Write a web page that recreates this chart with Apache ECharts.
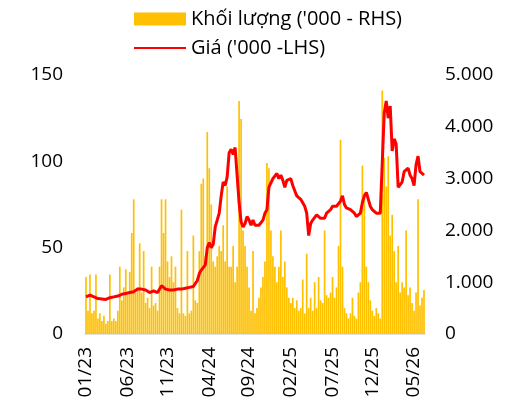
<!DOCTYPE html>
<html>
<head>
<meta charset="utf-8">
<script src="https://cdn.jsdelivr.net/npm/echarts@6/dist/echarts.min.js"></script>
<style>html,body{margin:0;padding:0;background:#fff}#c{width:509px;height:404px}</style>
</head>
<body>
<div id="c"></div>
<script>
// Weekly points, Jan 2023 – mid 2026
var xTickLabels = ['01/23','06/23','11/23','04/24','09/24','02/25','07/25','12/25','05/26'];
var xTickIdx = [0, 21, 41, 62, 82, 103, 124, 144, 165];

// Giá ('000, LHS)
var price = [
21.5,22,22.5,22.5,21.5,20.5,20.5,20.5,20.3,20,
20,20.5,21,21.7,21.5,21.7,22,22.5,23,23,
23.5,23.5,24,24,24.5,25.5,26,26.5,26,26,
25.5,24.5,24,24.5,25,24.5,24,25,28,28,
26,25.5,25.5,26,25.5,26,26,25.5,26,26,
26.5,27,27,27.5,27.5,28.5,31,35,37,38,
40,50,53,50,52,62,66,70,80,88,
86,91,105,107,104,108,92,76,65,62,
64,68,66,63,66,63,62,63,64,66,
70,72,85,84,90,91,93,90,92,89,
85,89,88,90,86,83,80,79,78,76,
74,70,57,64,66,67,69,70,67,68,
67,70,71,72,74,73,74,75,77,80,
75,73,73,72,71,70,68,67,70,76,
80,82,78,74,72,71,70,70,70,71,
128,135,125,132,106,113,110,85,86,88,
94,95,96,92,90,86,98,103,94,93,
92
];

// Khối lượng ('000, RHS)
var volume = [
1100,450,1150,400,450,1150,300,400,250,350,
200,250,1150,250,300,250,450,1300,650,900,
1250,750,1200,1950,2600,800,900,1750,800,1600,
600,700,500,1300,550,600,450,1300,2600,1950,
2600,1400,1100,1500,1000,1300,500,400,2400,400,
350,1600,400,450,1900,650,600,1600,2900,3000,
1500,3900,3200,2500,1400,1300,1500,1700,1600,2100,
1400,2850,1300,1300,1700,1000,1300,4500,4150,2000,
1700,1300,900,450,1600,400,500,700,900,1100,
1400,3300,3200,2000,1500,1300,1000,1300,2000,1100,
1400,900,700,600,700,500,650,450,500,1050,
400,1550,500,700,450,1000,500,1100,650,600,
2000,750,700,800,1100,700,900,1700,3750,1300,
500,400,300,400,700,350,300,800,1000,3250,
2650,1300,1000,650,450,350,500,400,300,4700,
3400,2850,3430,1900,2300,1600,1000,1700,800,1000,
900,2000,750,900,600,450,800,2600,550,700,
850
];

var categories = price.map(function(_, i){ return 'W' + i; });
var tickMap = {};
xTickIdx.forEach(function(idx, k){ tickMap[idx] = xTickLabels[k]; });

var chart = echarts.init(document.getElementById('c'), null, {renderer: 'canvas'});
var font = 'Open Sans';
chart.setOption({
  animation: false,
  backgroundColor: '#fff',
  textStyle: {fontFamily: font},
  legend: {
    orient: 'vertical',
    left: 133,
    top: 9,
    padding: 0,
    itemWidth: 52,
    itemHeight: 13,
    itemGap: 9,
    textStyle: {fontSize: 20, lineHeight: 20, color: '#000', fontFamily: font},
    data: [
      {name: "Khối lượng ('000 - RHS)", icon: 'rect'},
      {name: "Giá ('000 -LHS)", itemStyle: {opacity: 0}}
    ]
  },
  grid: {left: 85, right: 84, top: 75, bottom: 70, containLabel: false},
  xAxis: {
    type: 'category',
    data: categories,
    boundaryGap: true,
    axisLine: {show: true, lineStyle: {color: '#d9d9d9', width: 1.5}},
    axisTick: {show: false},
    axisLabel: {
      rotate: 90,
      margin: 13,
      fontSize: 19,
      color: '#000',
      fontFamily: font,
      interval: function(i){ return tickMap[i] !== undefined; },
      formatter: function(v, i){ return tickMap[i] || ''; }
    },
    splitLine: {show: false}
  },
  yAxis: [
    {
      type: 'value', position: 'left', min: 0, max: 150, interval: 50,
      axisLine: {show: false}, axisTick: {show: false}, splitLine: {show: false},
      axisLabel: {margin: 22, fontSize: 19, color: '#000', fontFamily: font}
    },
    {
      type: 'value', position: 'right', min: 0, max: 5000, interval: 1000,
      axisLine: {show: false}, axisTick: {show: false}, splitLine: {show: false},
      axisLabel: {
        margin: 20, fontSize: 19, color: '#000', fontFamily: font,
        formatter: function(v){ return v === 0 ? '0' : String(v).replace(/\B(?=(\d{3})+(?!\d))/g, '.'); }
      }
    }
  ],
  series: [
    {
      name: "Khối lượng ('000 - RHS)",
      type: 'bar',
      yAxisIndex: 1,
      data: volume,
      barCategoryGap: '15%',
      itemStyle: {color: '#FFC000'},
      z: 1
    },
    {
      name: "Giá ('000 -LHS)",
      type: 'line',
      yAxisIndex: 0,
      data: price,
      symbol: 'none',
      showSymbol: false,
      lineStyle: {color: '#FF0000', width: 3},
      itemStyle: {color: '#FF0000'},
      z: 3
    }
  ]
});
</script>
</body>
</html>
